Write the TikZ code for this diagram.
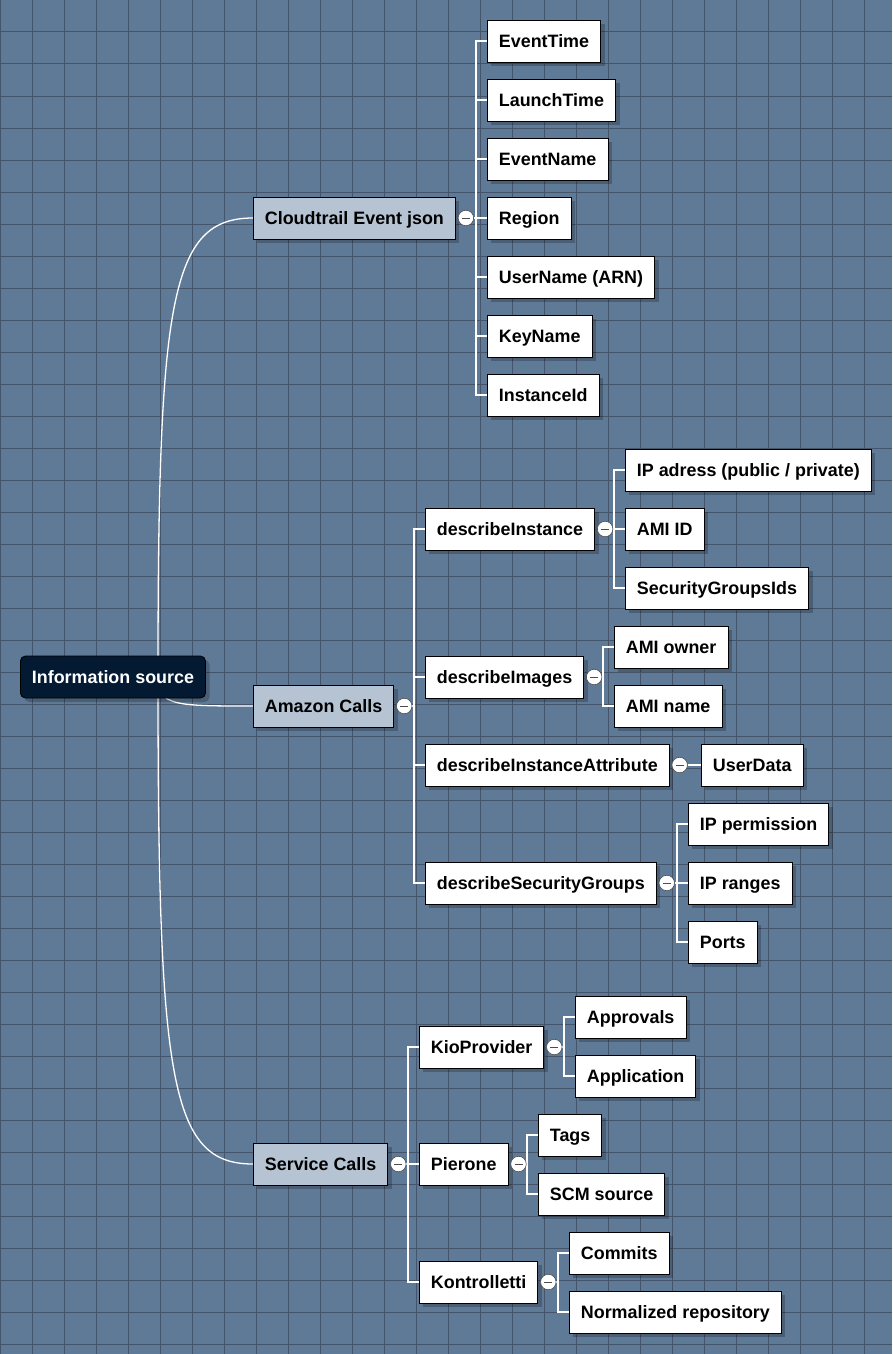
\documentclass[tikz,border=0pt]{standalone}
\usepackage{fontspec}
\setmainfont{Liberation Sans}
\usetikzlibrary{positioning,shadows}
\definecolor{paper}{HTML}{5F7A96}
\definecolor{gridline}{HTML}{44556B}
\definecolor{rootfill}{HTML}{041A32}
\definecolor{branchfill}{HTML}{B5C3D3}
\pgfdeclarelayer{grid}
\pgfdeclarelayer{links}
\pgfsetlayers{grid,links,main}

\begin{document}
\begin{tikzpicture}
	[x=1pt,y=-1pt,
	box/.style={shape=rectangle,draw=black,line width=.8pt,anchor=west,minimum height=42pt,inner xsep=11.5pt,inner ysep=0pt,text height=12.8pt,text depth=0pt,font=\bfseries\fontsize{17.9}{20}\selectfont,general shadow={fill=black,opacity=.22,shadow xshift=4pt,shadow yshift=-4pt}},
	leaf node/.style={box,fill=white},
	branch node/.style={box,fill=branchfill},
	root node/.style={box,fill=rootfill,text=white,rounded corners=5pt},
	toggle/.style={shape=circle,draw=black!70,fill=white,line width=.6pt,minimum size=15.5pt,inner sep=0pt,path picture={\draw[line width=.9pt] ([xshift=-4pt]path picture bounding box.center) -- ([xshift=4pt]path picture bounding box.center);}},
	link/.style={draw=white,line width=1.3pt}]
	\useasboundingbox (0,0) rectangle (892,1354);
	
	\begin{pgfonlayer}{grid}
	\fill[paper] (0,0) rectangle (892,1354);
	\foreach \g in {0,32,...,892} \draw[gridline,line width=1pt] (\g,0) -- (\g,1354);
	\foreach \g in {0,32,...,1354} \draw[gridline,line width=1pt] (0,\g) -- (892,\g);
	\end{pgfonlayer}
	
	% root and first level
	\node [root node] (1) at (20,677) {Information source};
	\node [branch node] (2) at (253,218) {Cloudtrail Event json};
	\node [branch node] (3) at (253,706) {Amazon Calls};
	\node [branch node] (4) at (253,1164) {Service Calls};
	
	% cloudtrail fields
	\node [leaf node] (21) at (487,41) {EventTime};
	\node [leaf node] (22) at (487,100) {LaunchTime};
	\node [leaf node] (23) at (487,159) {EventName};
	\node [leaf node] (24) at (487,218) {Region};
	\node [leaf node] (25) at (487,277) {UserName (ARN)};
	\node [leaf node] (26) at (487,336) {KeyName};
	\node [leaf node] (27) at (487,395) {InstanceId};
	
	% amazon calls
	\node [leaf node] (31) at (425,529) {describeInstance};
	\node [leaf node] (32) at (425,677) {describeImages};
	\node [leaf node] (33) at (425,765) {describeInstanceAttribute};
	\node [leaf node] (34) at (425,883) {describeSecurityGroups};
	\node [leaf node] (311) at (625,470) {IP adress (public / private)};
	\node [leaf node] (312) at (625,529) {AMI ID};
	\node [leaf node] (313) at (625,588) {SecurityGroupsIds};
	\node [leaf node] (321) at (614,647) {AMI owner};
	\node [leaf node] (322) at (614,706) {AMI name};
	\node [leaf node] (331) at (701,765) {UserData};
	\node [leaf node] (341) at (688,824) {IP permission};
	\node [leaf node] (342) at (688,883) {IP ranges};
	\node [leaf node] (343) at (688,942) {Ports};
	
	% service calls
	\node [leaf node] (41) at (419,1047) {KioProvider};
	\node [leaf node] (42) at (419,1164) {Pierone};
	\node [leaf node] (43) at (419,1282) {Kontrolletti};
	\node [leaf node] (411) at (575,1017) {Approvals};
	\node [leaf node] (412) at (575,1076) {Application};
	\node [leaf node] (421) at (538,1135) {Tags};
	\node [leaf node] (422) at (538,1194) {SCM source};
	\node [leaf node] (431) at (569,1253) {Commits};
	\node [leaf node] (432) at (569,1312) {Normalized repository};
	
	% collapse buttons
	\foreach \p in {2,3,4,31,32,33,34,41,42,43}
		\node [toggle,right=2pt of \p] (t\p) {};
	
	\begin{pgfonlayer}{links}
	\coordinate (1c) at (158,677);
	\draw[link] (1c) .. controls +(0,-377) and +(-83,0) .. (2.west);
	\draw[link] (1c) .. controls +(0,29) and +(-78,0) .. (3.west);
	\draw[link] (1c) .. controls +(0,405) and +(-83,0) .. (4.west);
	
	\foreach \n in {21,...,27} \draw[link] (t2.east) -| ([xshift=-11pt]\n.west) -- (\n.west);
	\foreach \n in {31,32,33,34} \draw[link] (t3.east) -| ([xshift=-11pt]\n.west) -- (\n.west);
	\foreach \n in {311,312,313} \draw[link] (t31.east) -| ([xshift=-11pt]\n.west) -- (\n.west);
	\foreach \n in {321,322} \draw[link] (t32.east) -| ([xshift=-11pt]\n.west) -- (\n.west);
	\draw[link] (t33.east) -- (331.west);
	\foreach \n in {341,342,343} \draw[link] (t34.east) -| ([xshift=-11pt]\n.west) -- (\n.west);
	
	\foreach \n in {41,42,43} \draw[link] (t4.east) -| ([xshift=-11pt]\n.west) -- (\n.west);
	\foreach \n in {411,412} \draw[link] (t41.east) -| ([xshift=-11pt]\n.west) -- (\n.west);
	\foreach \n in {421,422} \draw[link] (t42.east) -| ([xshift=-11pt]\n.west) -- (\n.west);
	\foreach \n in {431,432} \draw[link] (t43.east) -| ([xshift=-11pt]\n.west) -- (\n.west);
	\end{pgfonlayer}
	
\end{tikzpicture}
\end{document}
